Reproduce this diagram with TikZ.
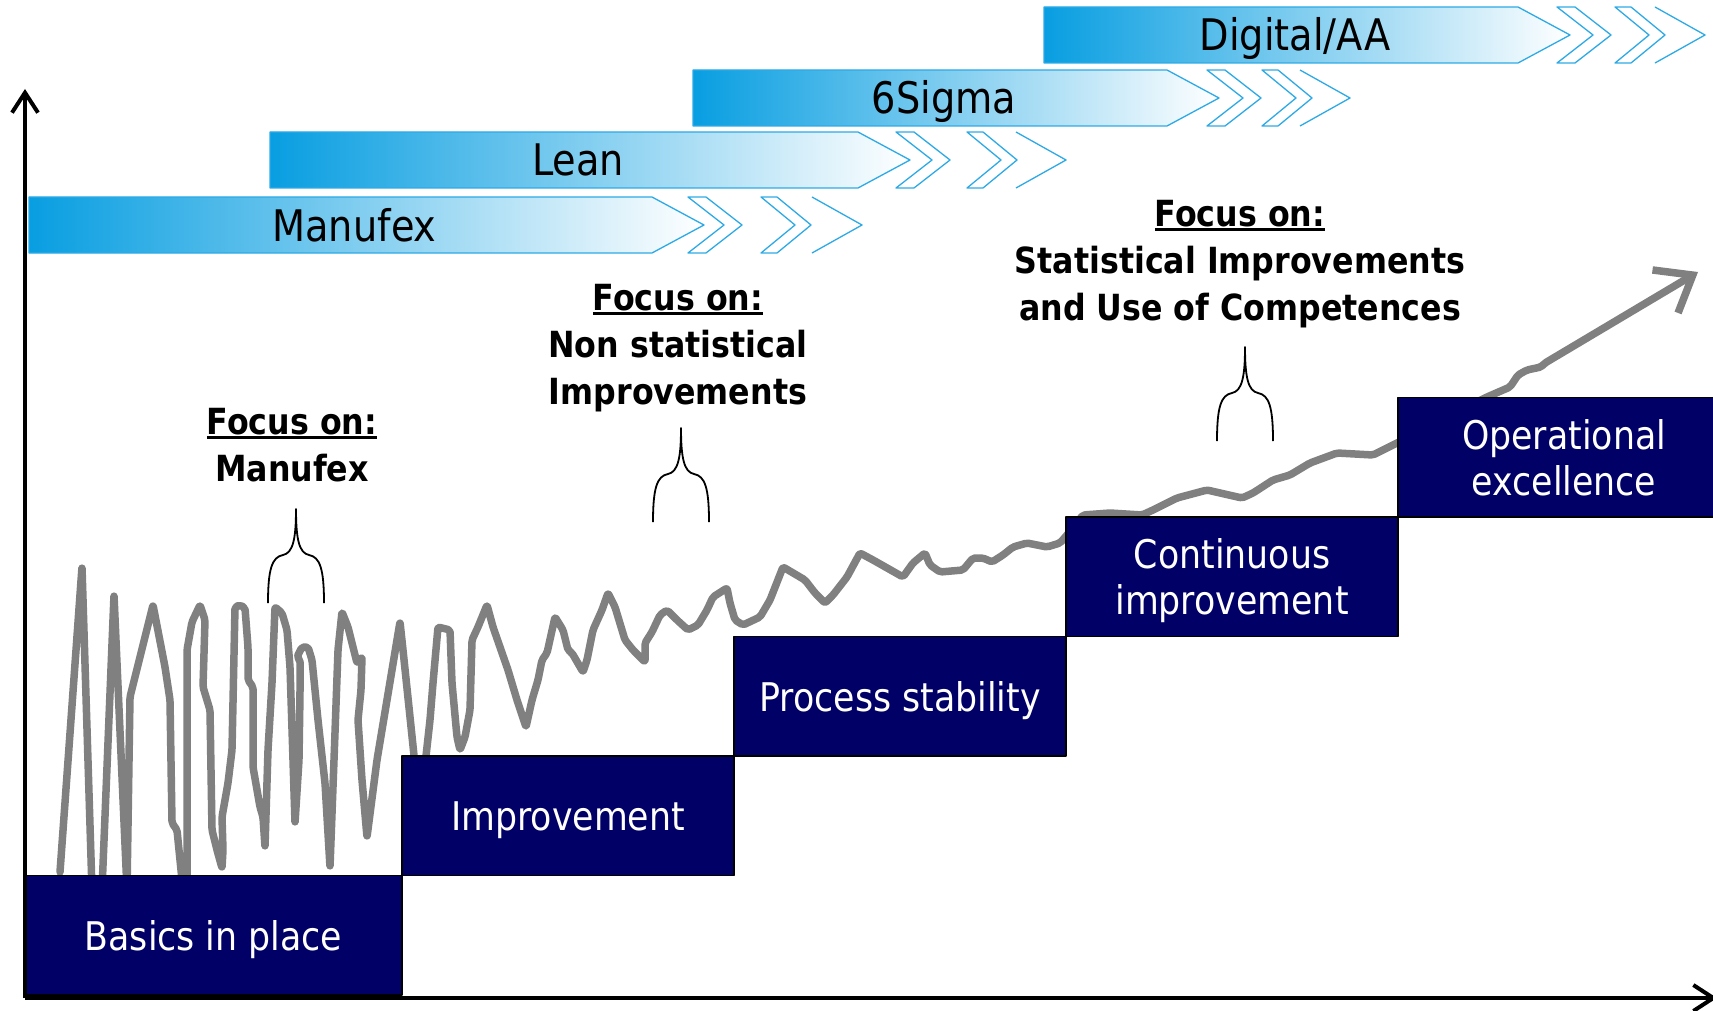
\documentclass[tikz,border=0pt]{standalone}
\usepackage{fontspec}
\setmainfont{DejaVu Sans}[FakeStretch=0.88]
\usetikzlibrary{positioning,arrows.meta,backgrounds}
\definecolor{stagenavy}{RGB}{0,0,102}
\definecolor{bannerblue}{RGB}{8,158,225}
\definecolor{bannerline}{RGB}{45,170,230}
\definecolor{trendgray}{RGB}{128,128,128}
\newcommand{\ulfocus}[1]{\setbox0=\hbox{#1}\rlap{\rule[-5pt]{\wd0}{3pt}}\box0}

\begin{document}
\begin{tikzpicture}[x=1pt,y=-1pt]
    \begin{scope}[line join=round, inner sep=0pt, text centered,
    		stagebox/.style={rectangle,draw=black,line width=1.5pt,fill=stagenavy,text=white,outer sep=0pt,
    			minimum width=332pt,minimum height=119.5pt,align=center,text depth=0pt,
    			font=\fontsize{39.5}{46}\selectfont},
    		bannertext/.style={anchor=base,font=\fontsize{43.5}{50}\selectfont},
    		focustext/.style={align=center,font=\fontsize{36}{47}\selectfont\bfseries},
    		chevron/.style={draw=bannerline,line width=1.3pt},
    		axis/.style={line width=4pt,-{Straight Barb[length=20pt,width=26pt]}},
    		trend/.style={draw=trendgray,line width=7.5pt,line cap=round,rounded corners=2pt,
    			-{Straight Barb[length=32pt,width=50pt]}},
    		focusbrace/.pic={\draw[line width=1.8pt]
    			(-28,94) .. controls (-28,60) and (-24,48) .. (-13,46)
    			.. controls (-3,44) and (0,30) .. (0,0)
    			.. controls (0,30) and (3,44) .. (13,46)
    			.. controls (24,48) and (28,60) .. (28,94);}]

    \useasboundingbox (0,0) rectangle (1713,1011);

    \foreach \lbl/\xa/\xe/\yt/\ca/\cb/\cc [count=\i] in
    	{Manufex/29/652/197/36/109/160, Lean/270/858/132/38/109/158,
    	 6Sigma/693/1167/70/40/95/133, {Digital/AA}/1044/1518/7/39/97/137}{
    	\path[draw=bannerline,line width=1.3pt,left color=bannerblue,right color=white]
    	(\xa,\yt) -- (\xe,\yt) -- (\xe+52,\yt+28) -- (\xe,\yt+56) -- (\xa,\yt+56) -- cycle;
    	\draw[chevron] (\xe+\ca,\yt) -- (\xe+\ca+18,\yt) -- (\xe+\ca+54,\yt+28) -- (\xe+\ca+18,\yt+56)
    	-- (\xe+\ca,\yt+56) -- (\xe+\ca+36,\yt+28) -- cycle;
    	\draw[chevron] (\xe+\cb,\yt) -- (\xe+\cb+16,\yt) -- (\xe+\cb+50,\yt+28) -- (\xe+\cb+16,\yt+56)
    	-- (\xe+\cb,\yt+56) -- (\xe+\cb+34,\yt+28) -- cycle;
    	\draw[chevron] (\xe+\cc,\yt) -- (\xe+\cc+50,\yt+28) -- (\xe+\cc,\yt+56);
    	\node[bannertext] (banner\i) at ({(\xa+\xe)/2+14},\yt+44) {\lbl};
    }

    \coordinate (trendtip) at (1698,272);
    \draw[trend] (60,872) -- (82,567) -- (92,890) -- (102,890) -- (114,595) -- (127,890) -- (130,697)
    -- (153,605) -- (165,667) -- (170,700) -- (172,823) -- (177,830) -- (183,890) -- (187,890)
    -- (187,783) -- (187,650) -- (192,622) -- (200,605) -- (205,620) -- (203,687) -- (210,710)
    -- (212,830) -- (217,850) -- (222,868) -- (223,850) -- (222,817) -- (228,783) -- (232,750)
    -- (235,607) -- (240,605) -- (245,608) -- (248,647) -- (248,680) -- (253,687) -- (253,767)
    -- (260,807) -- (263,817) -- (265,847) -- (268,750) -- (272,683) -- (275,607) -- (282,613)
    -- (287,630) -- (290,667) -- (293,760) -- (295,823) -- (299,760) -- (300,693) -- (300,660)
    -- (297,657) -- (302,647) -- (308,647) -- (312,660) -- (318,720) -- (325,783) -- (330,867)
    -- (334,760) -- (338,650) -- (342,612) -- (348,627) -- (353,647) -- (357,663) -- (362,657)
    -- (361,690) -- (358,720) -- (362,780) -- (367,837) -- (377,760) -- (387,700) -- (400,622)
    -- (403,650) -- (410,717) -- (415,765) -- (425,765) -- (430,720) -- (433,683) -- (438,627)
    -- (450,630) -- (452,683) -- (457,737) -- (460,750) -- (465,737) -- (470,710) -- (472,640)
    -- (478,627) -- (487,605) -- (493,627) -- (508,670) -- (517,700) -- (526,727) -- (532,700)
    -- (538,680) -- (542,660) -- (547,653) -- (555,617) -- (563,630) -- (568,650) -- (572,653)
    -- (583,672) -- (587,660) -- (593,630) -- (602,610) -- (608,593) -- (615,607) -- (625,640)
    -- (633,650) -- (645,662) -- (645,643) -- (652,632) -- (660,615) -- (667,610) -- (677,620)
    -- (688,630) -- (698,625) -- (707,610) -- (713,597) -- (727,588) -- (730,603) -- (735,620)
    -- (743,625) -- (760,617) -- (770,600) -- (783,567) -- (805,580) -- (815,593) -- (825,603)
    -- (833,595) -- (847,577) -- (860,553) -- (873,560) -- (903,577) -- (913,563) -- (925,553)
    -- (930,565) -- (940,572) -- (963,570) -- (973,558) -- (983,558) -- (992,562) -- (1003,555)
    -- (1013,547) -- (1027,543) -- (1047,547) -- (1060,543) -- (1067,535) -- (1083,515)
    -- (1110,513) -- (1142,515) -- (1153,510) -- (1177,498) -- (1207,490) -- (1242,498)
    -- (1253,493) -- (1273,480) -- (1290,475) -- (1310,463) -- (1337,453) -- (1373,455)
    -- (1387,448) -- (1397,443) -- (1440,420) -- (1487,397) -- (1510,387) -- (1518,375)
    -- (1527,370) -- (1541,367) -- (1545,363) -- (trendtip);

    \node[stagebox,minimum width=377pt,anchor=south west] (basics) at (25,995) {Basics in place};
    \node[stagebox,above right=0pt and 0pt of basics] (improve) {Improvement};
    \node[stagebox,above right=0pt and 0pt of improve] (stability) {Process stability};
    \node[stagebox,above right=0pt and 0pt of stability] (continuous) {Continuous\\improvement};
    \node[stagebox,above right=0pt and 0pt of continuous] (opex) {Operational\\excellence};

    \coordinate (origin) at (25,998);
    \coordinate (yend) at (25,89);
    \coordinate (xend) at (1717,998);
    \draw[axis] (origin) -- (yend);
    \draw[axis] (origin) -- (xend);

    \node[focustext] (focusA) at (292,445) {\ulfocus{Focus on:}\\Manufex};
    \node[focustext] (focusB) at (678,348) {\ulfocus{Focus on:}\\Non statistical\\Improvements};
    \node[focustext] (focusC) at (1240,264) {\ulfocus{Focus on:}\\Statistical Improvements\\and Use of Competences};

    \pic at (296,509) {focusbrace};
    \pic at (681,428) {focusbrace};
    \pic at (1245,347) {focusbrace};

    \end{scope}
\end{tikzpicture}
\end{document}
